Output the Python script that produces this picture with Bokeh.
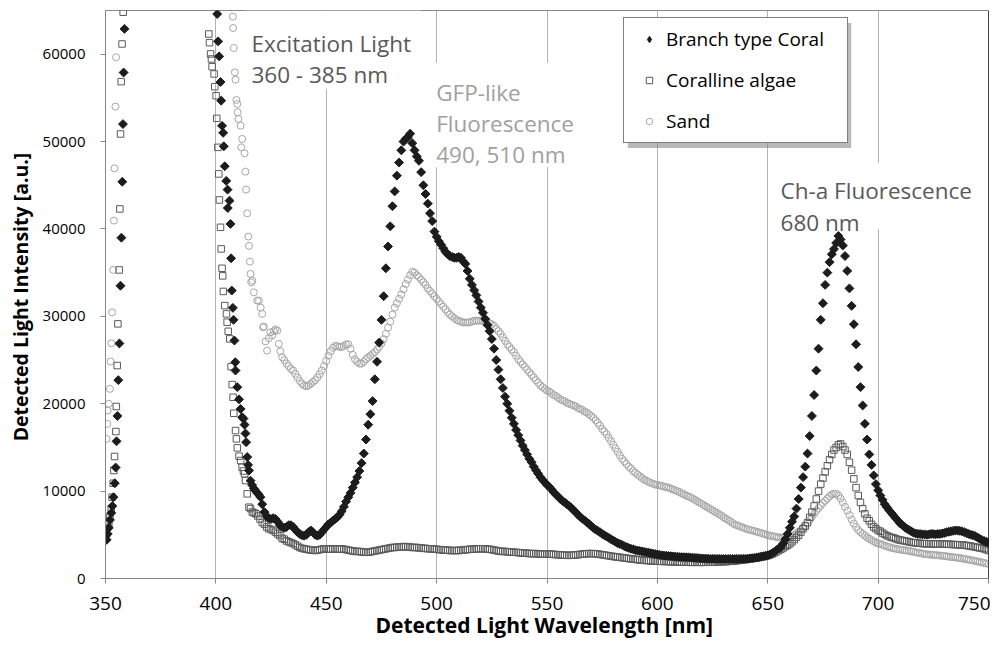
import math
from bokeh.plotting import figure
from bokeh.models import (ColumnDataSource, FixedTicker, NumeralTickFormatter, Label,
                          BoxAnnotation, Legend, LegendItem, Span)
from bokeh.embed import file_html
from bokeh.resources import INLINE

# ---------------- data ----------------
x_ticks = [350, 400, 450, 500, 550, 600, 650, 700, 750]
y_ticks = [0, 10000, 20000, 30000, 40000, 50000, 60000]
series_names = ["Branch type Coral", "Coralline algae", "Sand"]

# Branch type Coral
coral_uv_x = [350.5, 351.0, 351.5, 352.0, 352.6, 353.1, 353.6, 354.2, 354.6, 355.0,
              355.4, 355.8, 356.3, 356.8, 357.2, 357.6, 357.9, 358.2, 358.6]
coral_uv_y = [4430, 5100, 5800, 6700, 7500, 8300, 9300, 10900, 12700, 15700,
              18600, 22700, 26900, 33500, 39000, 45400, 52000, 57900, 62900]
coral_edge_x = [400.6, 401.0, 401.5, 402.1, 402.4, 402.8, 403.3, 403.6, 404.0, 404.7,
                405.3, 405.4, 406.2, 406.6, 406.9, 407.2, 407.7, 408.0, 408.4, 408.8,
                408.9, 409.7, 410.5, 411.2, 411.9, 412.5, 413.0, 413.4, 413.7, 414.2,
                414.6, 415.0, 415.7, 416.4, 417.2, 417.9, 418.7, 419.4, 420.2]
coral_edge_y = [64600, 61470, 59750, 56820, 54680, 51800, 51000, 49460, 47170, 45500,
                44500, 42400, 43240, 40580, 36640, 32950, 30970, 29600, 27230, 24750,
                23800, 21900, 20500, 19400, 18450, 18300, 17600, 16600, 15600, 13900,
                13000, 12350, 11200, 10700, 10300, 10070, 9800, 9600, 9300]
coral_main_start = 421
coral_main_y = [
    8500, 7600, 7100, 6900, 6800, 6900, 6800, 6500, 6100, 5900,          # 421-430
    5800, 5900, 6100, 6100, 5900, 5600, 5300, 5100, 4950, 4900,          # 431-440
    5000, 5300, 5500, 5300, 5000, 4900, 5000, 5300, 5600, 5900,          # 441-450
    6200, 6400, 6600, 6800, 7000, 7300, 7700, 8200, 8800, 9300,          # 451-460
    9800, 10400, 11000, 11600, 12300, 13200, 14300, 15900, 17600, 18800,  # 461-470
    20300, 22800, 24800, 27000, 29600, 32300, 35500, 38000, 40300, 42600,  # 471-480
    44300, 46100, 47600, 49000, 50000, 50300, 50500, 50900, 49800, 49000,  # 481-490
    48300, 47800, 46500, 45000, 44000, 42900, 41800, 40900, 39700, 39100,  # 491-500
    38600, 38200, 37800, 37400, 37100, 36900, 36800, 36700, 36700, 36800,  # 501-510
    36700, 36300, 36000, 35200, 34300, 33600, 33000, 32400, 31700, 31000,  # 511-520
    30400, 29700, 29000, 28300, 27400, 26300, 25000, 23900, 22800, 21800,  # 521-530
    20800, 20000, 19200, 18400, 17700, 17000, 16400, 15800, 15200, 14700,  # 531-540
    14200, 13700, 13300, 12800, 12400, 12000, 11600, 11300, 11000, 10700,  # 541-550
    10500, 10200, 9900, 9600, 9400, 9100, 8900, 8700, 8500, 8300,          # 551-560
    8100, 7800, 7600, 7300, 7050, 6850, 6650, 6450, 6250, 6000,            # 561-570
    5800, 5600, 5450, 5300, 5100, 4950, 4800, 4650, 4500, 4350,            # 571-580
    4200, 4050, 3950, 3850, 3700, 3600, 3500, 3400, 3350, 3250,            # 581-590
    3200, 3150, 3100, 3050, 3000, 2950, 2900, 2850, 2800, 2750,            # 591-600
    2700, 2650, 2620, 2600, 2580, 2550, 2530, 2500, 2480, 2460,            # 601-610
    2450, 2440, 2430, 2420, 2400, 2380, 2360, 2340, 2320, 2300,            # 611-620
    2280, 2270, 2260, 2250, 2250, 2250, 2240, 2240, 2230, 2230,            # 621-630
    2230, 2230, 2230, 2230, 2240, 2240, 2240, 2250, 2250, 2260,            # 631-640
    2270, 2300, 2330, 2360, 2400, 2450, 2500, 2550, 2600, 2650,            # 641-650
    2750, 2900, 3050, 3250, 3450, 3600, 4000, 4500, 5100, 5800,            # 651-660
    6500, 7100, 8000, 9100, 10400, 11600, 12800, 14300, 16300, 18600,      # 661-670
    21000, 23800, 26300, 29600, 31500, 33600, 35000, 36200, 37100, 37700,  # 671-680
    38400, 39200, 38800, 38100, 36900, 35200, 33200, 31200, 29100, 26800,  # 681-690
    24200, 21900, 19800, 17700, 15900, 14200, 13000, 11800, 10800, 10100,  # 691-700
    9500, 9000, 8500, 8150, 7800, 7500, 7200, 6900, 6600, 6300,            # 701-710
    6100, 5900, 5700, 5550, 5400, 5250, 5150, 5100, 5100, 5050,            # 711-720
    5050, 5000, 5050, 5100, 5100, 5050, 5100, 5100, 5150, 5200,            # 721-730
    5300, 5350, 5400, 5450, 5500, 5500, 5450, 5400, 5300, 5200,            # 731-740
    5100, 5000, 4950, 4850, 4700, 4550, 4400, 4300, 4200, 4100,            # 741-750
]

# Coralline algae
algae_uv_x = [350.5, 351.0, 351.5, 352.0, 352.6, 353.0, 353.5, 353.8, 354.1, 354.7,
              354.9, 355.3, 355.6, 356.2, 356.5, 356.8, 357.1, 357.5, 358.0]
algae_uv_y = [5110, 5870, 6300, 7010, 7970, 9300, 10900, 12360, 13960, 16820,
              19680, 24370, 29140, 35310, 42290, 50870, 56860, 61170, 64800]
algae_edge_x = [396.8, 397.1, 397.6, 398.0, 398.3, 399.2, 399.5, 400.1, 400.4, 400.9,
                401.3, 401.6, 402.1, 402.4, 402.8, 403.1, 403.4, 404.0, 404.8, 405.1,
                405.6, 406.3, 406.9, 407.4, 407.8, 408.1, 408.9, 409.3, 409.7, 410.5,
                411.2, 411.9, 412.5, 413.0, 413.4, 414.2, 415.0, 415.7, 416.5, 417.3,
                418.2, 419.0, 420.0]
algae_edge_y = [62310, 61320, 60030, 59450, 58570, 57740, 56280, 55250, 52660, 49340,
                46300, 43320, 40190, 37720, 35500, 34630, 32850, 31230, 30280, 29330,
                28290, 27420, 24250, 22190, 20740, 18910, 16930, 15980, 14950, 14000,
                13500, 12730, 12300, 11980, 11210, 9690, 8160, 8000, 7600, 7500,
                7400, 7150, 6800]
algae_main_start = 421
algae_main_y = [
    6400, 6200, 5900, 5700, 5600, 5500, 5300, 5100, 4900, 4600,   # 421-430
    4500, 4300, 4200, 4100, 4000, 3850, 3700, 3550, 3450, 3400,   # 431-440
    3350, 3300, 3250, 3250, 3200, 3250, 3300, 3350, 3400, 3400,   # 441-450
    3350, 3350, 3400, 3400, 3350, 3350, 3400, 3350, 3300, 3250,   # 451-460
    3200, 3150, 3100, 3100, 3100, 3050, 3000, 3000, 3000, 3050,   # 461-470
    3100, 3150, 3200, 3250, 3300, 3350, 3400, 3450, 3500, 3550,   # 471-480
    3550, 3600, 3600, 3600, 3650, 3650, 3600, 3600, 3550, 3550,   # 481-490
    3550, 3500, 3500, 3450, 3450, 3400, 3400, 3400, 3350, 3350,   # 491-500
    3300, 3300, 3250, 3250, 3250, 3200, 3200, 3200, 3200, 3200,   # 501-510
    3250, 3250, 3300, 3300, 3350, 3350, 3350, 3400, 3400, 3400,   # 511-520
    3400, 3400, 3350, 3350, 3300, 3250, 3200, 3150, 3100, 3100,   # 521-530
    3100, 3050, 3050, 3000, 3000, 3000, 2950, 2950, 2900, 2900,   # 531-540
    2900, 2850, 2850, 2850, 2850, 2800, 2800, 2800, 2800, 2800,   # 541-550
    2800, 2780, 2760, 2740, 2720, 2700, 2680, 2660, 2650, 2650,   # 551-560
    2660, 2680, 2700, 2730, 2760, 2790, 2820, 2840, 2850, 2850,   # 561-570
    2850, 2830, 2800, 2760, 2720, 2680, 2640, 2600, 2560, 2520,   # 571-580
    2480, 2450, 2420, 2390, 2350, 2320, 2280, 2250, 2220, 2190,   # 581-590
    2160, 2130, 2100, 2080, 2060, 2040, 2020, 2000, 1990, 1980,   # 591-600
    1970, 1960, 1950, 1940, 1930, 1920, 1910, 1900, 1890, 1880,   # 601-610
    1870, 1870, 1860, 1860, 1850, 1850, 1850, 1850, 1850, 1850,   # 611-620
    1850, 1860, 1860, 1870, 1870, 1880, 1890, 1900, 1910, 1920,   # 621-630
    1930, 1950, 1970, 1990, 2010, 2040, 2070, 2100, 2130, 2170,   # 631-640
    2200, 2240, 2280, 2320, 2360, 2400, 2450, 2500, 2560, 2620,   # 641-650
    2700, 2800, 2920, 3050, 3200, 3350, 3500, 3650, 3800, 3970,   # 651-660
    4200, 4450, 4700, 4950, 5300, 5700, 6000, 6400, 7000, 7600,   # 661-670
    8300, 9100, 10000, 10800, 11500, 12200, 12900, 13600, 14200, 14700,  # 671-680
    15000, 15300, 15400, 15100, 14700, 14200, 13300, 12400, 11400, 10400,  # 681-690
    9500, 8700, 8000, 7400, 6900, 6600, 6200, 5900, 5700, 5500,   # 691-700
    5400, 5200, 5050, 4900, 4800, 4700, 4650, 4550, 4450, 4400,   # 701-710
    4350, 4300, 4250, 4200, 4150, 4100, 4080, 4050, 4030, 4000,   # 711-720
    3980, 3980, 3970, 3970, 3960, 3960, 3950, 3950, 3950, 3940,   # 721-730
    3930, 3920, 3900, 3890, 3880, 3860, 3850, 3830, 3810, 3780,   # 731-740
    3740, 3700, 3650, 3600, 3550, 3500, 3450, 3400, 3300, 3200,   # 741-750
]

# Sand
sand_uv_x = [350.5, 350.8, 351.0, 351.5, 352.0, 352.3, 352.7, 353.0, 353.5, 353.8,
             354.1, 354.5, 354.8]
sand_uv_y = [15980, 17700, 19220, 19990, 21700, 24830, 26920, 30460, 35310, 40960,
             46940, 54000, 59640]
sand_edge_x = [407.7, 407.8, 408.1, 408.6, 408.9, 409.3, 409.7, 409.9, 410.2, 411.2,
               411.5, 411.9, 413.0, 413.4, 413.7, 414.2, 414.7, 415.0, 415.4, 415.7,
               416.0, 416.5, 417.2, 418.7, 419.5, 420.3, 421.0, 421.4, 421.7, 422.5,
               423.2, 424.0, 424.7, 425.5, 426.3, 427.0, 427.8, 428.5, 429.2, 430.0]
sand_edge_y = [64300, 63000, 60710, 57920, 57090, 54760, 54300, 53350, 52590, 51820,
               49340, 50300, 48660, 46560, 44500, 41790, 39130, 38060, 36260, 34860,
               33900, 34090, 32750, 31800, 31800, 31000, 30280, 28750, 28830, 27130,
               26080, 27500, 28180, 27800, 28300, 28500, 28370, 26850, 26000, 25320]
sand_main_start = 431
sand_main_y = [
    25000, 24600, 24300, 24000, 23800, 23400, 23000, 22600, 22300, 22100,  # 431-440
    22000, 22100, 22300, 22500, 22700, 23000, 23400, 23800, 24300, 24900,  # 441-450
    25500, 26000, 26400, 26600, 26600, 26500, 26500, 26600, 26800, 26800,  # 451-460
    26300, 25600, 25100, 24800, 24600, 24600, 24800, 25100, 25300, 25500,  # 461-470
    25700, 25900, 26200, 26500, 26900, 27400, 28000, 28700, 29400, 30200,  # 471-480
    31000, 31500, 32000, 32500, 33100, 33700, 34200, 34700, 35100, 35000,  # 481-490
    34700, 34500, 34200, 33900, 33600, 33200, 32900, 32600, 32300, 32000,  # 491-500
    31700, 31400, 31100, 30800, 30500, 30200, 30000, 29800, 29600, 29500,  # 501-510
    29400, 29300, 29300, 29300, 29300, 29400, 29500, 29500, 29500, 29500,  # 511-520
    29500, 29400, 29300, 29200, 29100, 28900, 28600, 28300, 28000, 27600,  # 521-530
    27200, 26800, 26500, 26200, 25900, 25500, 25100, 24800, 24500, 24200,  # 531-540
    23900, 23600, 23300, 23000, 22700, 22400, 22100, 21900, 21700, 21500,  # 541-550
    21400, 21200, 21000, 20900, 20700, 20500, 20400, 20300, 20100, 20000,  # 551-560
    19900, 19800, 19700, 19500, 19400, 19300, 19100, 19000, 18800, 18600,  # 561-570
    18400, 18100, 17800, 17500, 17100, 16800, 16500, 16100, 15700, 15300,  # 571-580
    14900, 14500, 14100, 13700, 13400, 13100, 12800, 12600, 12300, 12100,  # 581-590
    11900, 11700, 11500, 11300, 11200, 11050, 10950, 10850, 10750, 10700,  # 591-600
    10650, 10600, 10500, 10450, 10400, 10300, 10200, 10100, 10000, 9900,   # 601-610
    9750, 9650, 9500, 9400, 9300, 9150, 9000, 8850, 8700, 8550,            # 611-620
    8400, 8250, 8100, 7950, 7800, 7650, 7500, 7350, 7200, 7000,            # 621-630
    6850, 6700, 6550, 6350, 6200, 6100, 6000, 5900, 5800, 5700,            # 631-640
    5620, 5550, 5500, 5420, 5350, 5280, 5200, 5120, 5050, 4950,            # 641-650
    4900, 4850, 4800, 4750, 4700, 4700, 4680, 4700, 4720, 4750,            # 651-660
    4850, 5000, 5150, 5350, 5550, 5800, 6050, 6350, 6700, 7050,            # 661-670
    7400, 7750, 8050, 8350, 8650, 8900, 9150, 9400, 9600, 9700,            # 671-680
    9700, 9500, 9150, 8700, 8200, 7750, 7250, 6750, 6300, 5900,            # 681-690
    5550, 5300, 5100, 4900, 4700, 4550, 4400, 4250, 4100, 4000,            # 691-700
    3950, 3850, 3750, 3650, 3600, 3500, 3450, 3400, 3350, 3300,            # 701-710
    3270, 3230, 3200, 3150, 3100, 3050, 3000, 2950, 2900, 2850,            # 711-720
    2800, 2780, 2750, 2720, 2700, 2680, 2650, 2630, 2600, 2570,            # 721-730
    2540, 2500, 2470, 2430, 2400, 2370, 2330, 2300, 2250, 2200,            # 731-740
    2150, 2100, 2060, 2000, 1950, 1900, 1850, 1780, 1720, 1680,            # 741-750
]


def build(uv_x, uv_y, edge_x, edge_y, start, main_y):
    main_x = [start + i for i in range(len(main_y))]
    return ColumnDataSource(data=dict(x=uv_x + edge_x + main_x, y=uv_y + edge_y + main_y))


src_coral = build(coral_uv_x, coral_uv_y, coral_edge_x, coral_edge_y, coral_main_start, coral_main_y)
src_algae = build(algae_uv_x, algae_uv_y, algae_edge_x, algae_edge_y, algae_main_start, algae_main_y)
src_sand = build(sand_uv_x, sand_uv_y, sand_edge_x, sand_edge_y, sand_main_start, sand_main_y)

# ---------------- figure ----------------
FONT = "Open Sans"
p = figure(width=990, height=641, x_range=(350, 750), y_range=(0, 65000),
           output_backend="svg", toolbar_location=None,
           min_border_left=105, min_border_right=2, min_border_top=10, min_border_bottom=63)
p.background_fill_color = "white"
p.border_fill_color = "white"
p.outline_line_color = "#868686"

p.xaxis.ticker = FixedTicker(ticks=x_ticks)
p.yaxis.ticker = FixedTicker(ticks=y_ticks)
p.yaxis.formatter = NumeralTickFormatter(format="0")
p.xgrid.ticker = FixedTicker(ticks=x_ticks)
p.xgrid.grid_line_color = "#b3b3b3"
p.ygrid.grid_line_color = None

for ax in (p.xaxis[0], p.yaxis[0]):
    ax.axis_line_color = "#868686"
    ax.major_tick_line_color = "#868686"
    ax.major_tick_out = 5
    ax.major_tick_in = 0
    ax.minor_tick_out = 0
    ax.minor_tick_in = 0
    ax.major_label_text_font = FONT
    ax.major_label_text_color = "black"
    ax.axis_label_text_font = FONT
    ax.axis_label_text_font_style = "bold"
    ax.axis_label_text_color = "black"

p.xaxis.major_label_text_font_size = "19px"
p.yaxis.major_label_text_font_size = "15px"
p.xaxis.major_label_standoff = 13
p.yaxis.major_label_standoff = 15
p.yaxis.axis_label = "Detected Light Intensity  [a.u.]"
p.yaxis.axis_label_text_font_size = "19.5px"
p.yaxis.axis_label_standoff = 6
p.xaxis.axis_label = "Detected Light Wavelength  [nm]"
p.xaxis.axis_label_text_font_size = "21px"
p.xaxis.axis_label_standoff = -2

# data series (sand underneath, coral on top)
r_sand = p.scatter("x", "y", source=src_sand, marker="circle", size=7,
                   line_color="#a6a6a6", fill_color=None, line_width=1)
r_algae = p.scatter("x", "y", source=src_algae, marker="square", size=6.5,
                    line_color="#5a5a5a", fill_color=None, line_width=1)
r_coral = p.scatter("x", "y", source=src_coral, marker="square", angle=math.pi / 4,
                    size=6.3, line_color="#1c1c1c", fill_color="#1c1c1c")

# legend symbol proxy for the coral series (a NaN point, never drawn in the plot)
nan = float("nan")
lg_coral = p.scatter("x", "y", source=ColumnDataSource(data=dict(x=[nan], y=[nan])),
                     marker="diamond", size=9, line_color="#1c1c1c", fill_color="#1c1c1c")

# right border in black
p.add_layout(Span(location=750, dimension="height", line_color="black", line_width=1))

# white text boxes covering grid lines
for l, r, t, b in [(413.4, 492.7, 65000, 56050), (497.2, 560.6, 59030, 47070),
                    (653.5, 744.1, 47590, 39980)]:
    p.add_layout(BoxAnnotation(left=l, right=r, top=t, bottom=b, fill_color="white",
                               fill_alpha=1.0, line_color=None))

ann = [
    ("Excitation Light", 416.1, 61280, "#595959"),
    ("360 - 385 nm", 416.1, 57650, "#595959"),
    ("GFP-like", 499.8, 55660, "#a0a0a0"),
    ("Fluorescence", 499.8, 52080, "#a0a0a0"),
    ("490, 510 nm", 499.8, 48500, "#a0a0a0"),
    ("Ch-a Fluorescence", 655.8, 44360, "#595959"),
    ("680 nm", 655.8, 40760, "#595959"),
]
for txt, x, y, c in ann:
    p.add_layout(Label(x=x, y=y, text=txt, text_font=FONT, text_font_size="22.5px",
                       text_color=c, text_baseline="alphabetic", text_align="left"))

# legend shadow
p.add_layout(BoxAnnotation(left=586.6, right=687.8, top=63570, bottom=49270,
                           fill_color="#7f7f7f", fill_alpha=0.55, line_color=None))

legend = Legend(items=[LegendItem(label=series_names[0], renderers=[lg_coral]),
                       LegendItem(label=series_names[1], renderers=[r_algae]),
                       LegendItem(label=series_names[2], renderers=[r_sand])],
                location=(518, 435), padding=8, spacing=15, glyph_width=34,
                glyph_height=16, label_height=16, label_width=173, label_standoff=0,
                margin=0, border_line_color="black", border_line_width=1,
                background_fill_color="white", background_fill_alpha=1.0,
                label_text_font=FONT, label_text_font_size="19px", label_text_color="black")
p.add_layout(legend)

open("out.html", "w").write(file_html(p, INLINE))
